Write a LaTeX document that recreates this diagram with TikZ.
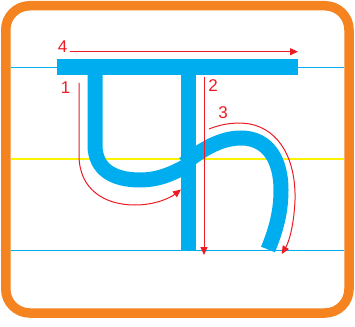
\documentclass[tikz,border=0pt]{standalone}
\usepackage{fontspec}
\setmainfont{Liberation Sans}
\usetikzlibrary{arrows.meta}
\definecolor{frameorange}{HTML}{F58420}
\definecolor{strokeblue}{HTML}{00AEEF}
\definecolor{guideyellow}{HTML}{FFF200}
\definecolor{arrowred}{HTML}{ED1C24}
\tikzset{
  guide/.style={line width=1.3pt},
  letter/.style={strokeblue, line width=15pt},
  redarrow/.style={arrowred, line width=1pt, -{Triangle[length=8pt,width=7pt]}},
  numlabel/.style={text=arrowred, font=\fontsize{17}{17}\selectfont, inner sep=0pt}
}
\begin{document}
\begin{tikzpicture}[x=1pt,y=-1pt]
\useasboundingbox (0,0) rectangle (355,326);
% frame
\draw[frameorange, line width=9.5pt, rounded corners=24pt] (5.75,5.75) rectangle (349,313);
% guide lines
\draw[guide, strokeblue] (10.5,67.7) -- (344,67.7);
\draw[guide, guideyellow] (10.5,159) -- (344,159);
\draw[guide, strokeblue] (10.5,250.7) -- (344,250.7);
% letter strokes
\fill[strokeblue] (57.3,59.3) rectangle (298.3,75);
\draw[letter] (95,70) -- (95,145) .. controls (95,170) and (114,180) .. (140,180) .. controls (158,180) and (172,174) .. (188,165);
\draw[letter] (188.5,70) -- (188.5,250.7);
\draw[letter] (184,164) .. controls (203,148) and (222,138) .. (241,138) .. controls (268,138) and (281,160) .. (281,190) .. controls (281,212) and (276,230) .. (268,249.5);
% arrow coordinates
\coordinate (a4s) at (70,51.7);
\coordinate (a4e) at (298,51.7);
\coordinate (a1s) at (79,83);
\coordinate (a1e) at (181,189.5);
\coordinate (a2s) at (204,77);
\coordinate (a2e) at (204,255);
\coordinate (a3s) at (209,129);
\coordinate (a3e) at (281.7,254);
% arrows
\draw[redarrow] (a4s) -- (a4e);
\draw[redarrow] (a1s) -- (79,155) .. controls (79,190) and (105,205) .. (135,205) .. controls (155,205) and (170,198) .. (a1e);
\draw[redarrow] (a2s) -- (a2e);
\draw[redarrow] (a3s) .. controls (224,123) and (238,122) .. (250,124) .. controls (280,130) and (296,160) .. (295,200) .. controls (294,225) and (289,242) .. (a3e);
% labels
\node[numlabel] (n4) at (62.5,47) {4};
\node[numlabel] (n1) at (65.5,88) {1};
\node[numlabel] (n2) at (213,85.5) {2};
\node[numlabel] (n3) at (223,113) {3};
\end{tikzpicture}
\end{document}
